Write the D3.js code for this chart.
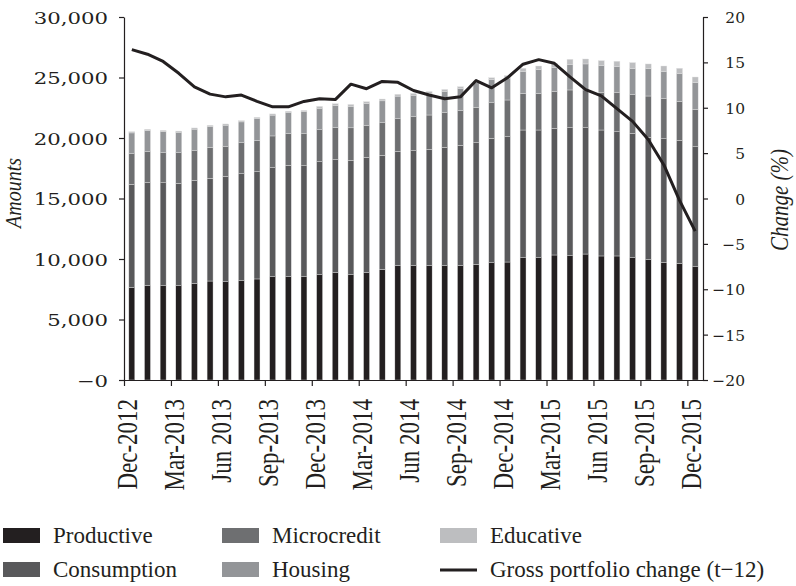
<!DOCTYPE html>
<html>
<head>
<meta charset="utf-8">
<script src="https://cdn.jsdelivr.net/npm/d3@7"></script>
<style>
  body { margin: 0; background: #fff; }
  svg { display: block; }
</style>
</head>
<body>
<svg id="chart" width="796" height="586"></svg>
<script>
// Monthly loan portfolio by type, Dec-2012 to Dec-2015
const months = [
  "Dec-2012","Jan-2013","Feb-2013","Mar-2013","Apr-2013","May-2013","Jun-2013","Jul-2013","Aug-2013",
  "Sep-2013","Oct-2013","Nov-2013","Dec-2013","Jan-2014","Feb-2014","Mar-2014","Apr-2014","May-2014",
  "Jun-2014","Jul-2014","Aug-2014","Sep-2014","Oct-2014","Nov-2014","Dec-2014","Jan-2015","Feb-2015",
  "Mar-2015","Apr-2015","May-2015","Jun-2015","Jul-2015","Aug-2015","Sep-2015","Oct-2015","Nov-2015","Dec-2015"
];

const productive = [7660,7830,7790,7790,7990,8180,8120,8210,8350,8540,8540,8540,8700,8870,8700,8870,9150,9450,
  9450,9450,9450,9450,9560,9690,9750,10110,10110,10330,10270,10410,10250,10250,10110,9940,9730,9640,9360];
const consumption = [8510,8480,8510,8460,8510,8490,8710,8840,8870,9010,9210,9170,9340,9340,9450,9540,9420,9450,
  9500,9620,9780,9950,10050,10280,10360,10550,10550,10470,10580,10440,10410,10270,10280,10120,10210,10170,9920];
const microcredit = [2530,2560,2480,2530,2450,2560,2450,2560,2590,2620,2610,2640,2640,2640,2690,2640,2690,2690,
  2810,2830,2860,2860,2930,2940,3030,3030,3030,3030,3120,3120,3120,3220,3190,3410,3310,3220,3090];
const housing = [1720,1750,1750,1690,1780,1720,1780,1720,1800,1720,1750,1830,1780,1830,1780,1800,1810,1870,
  1770,1790,1770,1830,2020,1920,1810,1820,1960,2000,2120,2150,2200,2150,2150,2260,2230,2280,2200];
const educative = [100,100,100,100,100,100,100,100,100,100,100,100,150,150,150,150,150,150,
  150,150,150,150,150,150,200,250,300,350,410,410,410,450,500,390,470,450,470];

// Year-on-year change of the gross portfolio (t-12), in percent
const grossChange = [16.4,15.9,15.1,13.8,12.3,11.5,11.2,11.4,10.7,10.1,10.1,10.7,11.0,10.9,12.6,12.1,12.9,12.8,
  11.9,11.4,11.0,11.2,13.0,12.2,13.3,14.8,15.3,14.9,13.4,12.0,11.3,9.9,8.5,6.5,3.7,-0.2,-3.6];

const tickLabels = ["Dec-2012","Mar-2013","Jun 2013","Sep-2013","Dec-2013","Mar-2014","Jun 2014",
  "Sep-2014","Dec-2014","Mar-2015","Jun 2015","Sep-2015","Dec-2015"];

const amountTicks = [0,5000,10000,15000,20000,25000,30000];
const changeTicks = [-20,-15,-10,-5,0,5,10,15,20];

const seriesKeys = ["Productive","Consumption","Microcredit","Housing","Educative"];
const seriesValues = [productive, consumption, microcredit, housing, educative];
const seriesColors = ["#231f20","#59595b","#6e6f71","#939598","#bdbec0"];
const ink = "#231f20";

const svg = d3.select("#chart");
svg.append("rect").attr("width",796).attr("height",586).attr("fill","#fff");

const plot = { left: 124, right: 703, top: 17, bottom: 380 };

const x = d3.scaleBand().domain(months).range([plot.left, plot.right])
  .paddingInner(0.62).paddingOuter(0.31);
const xTick = d3.scaleLinear().domain([0, months.length]).range([plot.left, plot.right]);
const y = d3.scaleLinear().domain([0, 30000]).range([plot.bottom, plot.top]);
const yR = d3.scaleLinear().domain([-20, 20]).range([plot.bottom, plot.top]);

// stacked bars
const rows = months.map((m, i) => {
  const r = { month: m };
  seriesKeys.forEach((k, j) => r[k] = seriesValues[j][i]);
  return r;
});
const stacked = d3.stack().keys(seriesKeys)(rows);

svg.append("g").selectAll("g")
  .data(stacked)
  .join("g")
  .attr("fill", (d, i) => seriesColors[i])
  .selectAll("rect")
  .data(d => d)
  .join("rect")
  .attr("x", d => x(d.data.month))
  .attr("width", x.bandwidth())
  .attr("y", d => y(d[1]))
  .attr("height", d => y(d[0]) - y(d[1]))
  .attr("stroke", "#e2e2e2")
  .attr("stroke-width", 0.4);

// change line
const line = d3.line()
  .x((d, i) => x(months[i]) + x.bandwidth() / 2)
  .y(d => yR(d));
svg.append("path")
  .datum(grossChange)
  .attr("d", line)
  .attr("fill", "none")
  .attr("stroke", ink)
  .attr("stroke-width", 3)
  .attr("stroke-linejoin", "round");

// axes
const numFont = "'DejaVu Serif', serif";
const textFont = "'Liberation Serif', 'Times New Roman', serif";

const gL = svg.append("g").attr("transform", `translate(${plot.left},0)`)
  .call(d3.axisLeft(y).tickValues(amountTicks).tickSize(5).tickSizeOuter(0)
    .tickFormat(v => v === 0 ? "\u22120" : d3.format(",")(v)));
gL.selectAll("text")
  .attr("x", 0)
  .attr("dy", "0.36em")
  .attr("transform", "translate(-16,0) scale(1.25,1)")
  .attr("font-family", numFont).attr("font-size", 17).attr("fill", ink);

const gR = svg.append("g").attr("transform", `translate(${plot.right},0)`)
  .call(d3.axisRight(yR).tickValues(changeTicks).tickSize(5).tickSizeOuter(0)
    .tickFormat(v => v < 0 ? "\u2212" + Math.abs(v) : String(v)));
gR.selectAll("text")
  .attr("x", 42)
  .attr("dy", "0.36em")
  .attr("text-anchor", "end")
  .attr("font-family", numFont).attr("font-size", 15.5).attr("fill", ink);

const gX = svg.append("g").attr("transform", `translate(0,${plot.bottom})`)
  .call(d3.axisBottom(xTick).tickValues(d3.range(0, months.length, 3)).tickSize(6).tickSizeOuter(0)
    .tickFormat((d, i) => tickLabels[i]));
gX.selectAll("text")
  .attr("x", 0).attr("y", 0)
  .attr("dy", "0.34em")
  .attr("text-anchor", "end")
  .attr("transform", "translate(3,19) rotate(-90) scale(1,1.25)")
  .attr("font-family", textFont).attr("font-size", 23).attr("fill", ink);

[gL, gR, gX].forEach(g => {
  g.selectAll("path.domain").attr("stroke", ink).attr("stroke-width", 1.2);
  g.selectAll(".tick line").attr("stroke", ink).attr("stroke-width", 1.2);
});

// axis titles
svg.append("text")
  .attr("transform", "translate(21,193) rotate(-90) scale(1,1.2)")
  .attr("text-anchor", "middle")
  .attr("font-family", textFont).attr("font-style", "italic").attr("font-size", 20)
  .attr("fill", ink).text("Amounts");
svg.append("text")
  .attr("transform", "translate(788,200) rotate(-90) scale(1,1.2)")
  .attr("text-anchor", "middle")
  .attr("font-family", textFont).attr("font-style", "italic").attr("font-size", 21)
  .attr("fill", ink).text("Change (%)");

// legend
const legendItems = [
  { label: "Productive", color: seriesColors[0], col: 0, row: 0 },
  { label: "Microcredit", color: seriesColors[2], col: 1, row: 0 },
  { label: "Educative", color: seriesColors[4], col: 2, row: 0 },
  { label: "Consumption", color: seriesColors[1], col: 0, row: 1 },
  { label: "Housing", color: seriesColors[3], col: 1, row: 1 },
  { label: "Gross portfolio change (t\u221212)", line: true, col: 2, row: 1 }
];
const colX = [3, 222, 440];
const rowY = [536, 570];
const lg = svg.append("g");
legendItems.forEach(it => {
  const gx = colX[it.col], gy = rowY[it.row];
  if (it.line) {
    lg.append("line").attr("x1", gx).attr("x2", gx + 37).attr("y1", gy).attr("y2", gy)
      .attr("stroke", ink).attr("stroke-width", 3);
  } else {
    lg.append("rect").attr("x", gx).attr("y", gy - 8).attr("width", 37).attr("height", 15)
      .attr("fill", it.color);
  }
  lg.append("text").attr("x", gx + 50).attr("y", gy + 7)
    .attr("font-family", textFont).attr("font-size", 23).attr("fill", ink)
    .text(it.label);
});
</script>
</body>
</html>
